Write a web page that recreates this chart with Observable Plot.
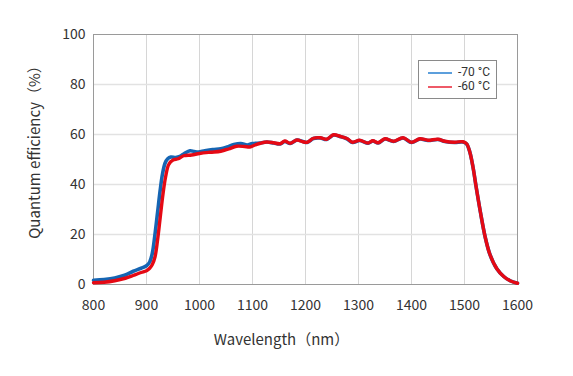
<!DOCTYPE html>
<html>
<head>
<meta charset="utf-8">
<script src="https://cdn.jsdelivr.net/npm/d3@7"></script>
<script src="https://cdn.jsdelivr.net/npm/@observablehq/plot@0.6"></script>
<style>
  html, body { margin: 0; padding: 0; background: #fff; }
  #wrap { position: relative; width: 573px; height: 376px; font-family: "Noto Sans CJK JP", "Noto Sans", sans-serif; color: #333; }
  #legend { position: absolute; left: 418px; top: 60px; width: 77px; height: 37px; border: 1px solid #8a8a8a; background: #fff; font-family: Roboto, "DejaVu Sans", sans-serif; font-size: 12px; line-height: 13px; }
  .row { position: absolute; left: 9px; height: 13px; line-height: 13px; display: flex; align-items: center; }
  .sw { width: 24px; height: 0; border-top-width: 2px; border-top-style: solid; margin-right: 6px; }
</style>
</head>
<body>
<div id="wrap"></div>
<script>
// Wavelength (nm) and quantum efficiency (%)
const wl70 = [800,820,840,860,875,890,900,906,911,916,921,926,930,935,940,946,955,963,972,982,990,998,1010,1025,1040,1052,1065,1078,1090,1100,1115,1127,1140,1152,1161,1171,1184,1195,1203,1215,1228,1240,1253,1265,1278,1289,1302,1318,1327,1337,1350,1366,1384,1400,1416,1431,1450,1463,1481,1497,1504,1510,1516,1522,1530,1539,1548,1561,1574,1586,1600];
const qe70 = [1.7,2.0,2.6,3.8,5.3,6.5,7.5,9,12.5,20,29,38,44,48.5,50.3,51,50.8,51.2,52.5,53.5,53.2,53.0,53.5,54.0,54.3,55,56,56.4,55.8,56.4,56.6,57,56.6,56.2,57.2,56.4,57.8,57.2,56.8,58.4,58.6,58.0,59.8,59.2,58.3,56.8,57.6,56.5,57.4,56.6,58.2,57.2,58.6,56.8,58.2,57.6,58.0,57.2,56.8,57.0,56.2,53,47,39,29,19,12,6.3,3.2,1.5,0.5];

const wl60 = [800,820,840,860,875,890,900,906,911,916,921,926,931,936,942,950,960,970,985,1000,1020,1040,1055,1070,1085,1095,1105,1115,1127,1140,1152,1161,1171,1184,1195,1203,1215,1228,1240,1253,1265,1278,1289,1302,1318,1327,1337,1350,1366,1384,1400,1416,1431,1450,1463,1481,1497,1504,1510,1516,1522,1530,1539,1548,1561,1574,1586,1600];
const qe60 = [0.7,0.9,1.5,2.5,3.6,4.8,5.5,6.5,8,11,18,27,36,43,48,49.8,50.3,51.5,51.8,52.4,52.9,53.3,54.2,55.3,55.2,55.0,55.8,56.5,57,56.7,56.3,57.4,56.5,57.8,57.1,56.9,58.5,58.7,58.1,59.9,59.3,58.4,56.9,57.7,56.6,57.5,56.7,58.3,57.3,58.7,56.9,58.3,57.7,58.1,57.3,56.9,57.1,56.3,53,47,39,29,19,12,6.3,3.2,1.5,0.5];

const xTicks = [800,900,1000,1100,1200,1300,1400,1500,1600];
const yTicks = [0,20,40,60,80,100];
const seriesNames = ["-70 °C", "-60 °C"];
const seriesColors = ["#1565b3", "#e50914"];
const legendColors = ["#5c9fdc", "#ee5a68"];

const d70 = wl70.map((w, i) => ({w, q: qe70[i]}));
const d60 = wl60.map((w, i) => ({w, q: qe60[i]}));

const chart = Plot.plot({
  width: 573,
  height: 376,
  marginLeft: 93,
  marginRight: 56,
  marginTop: 34,
  marginBottom: 92,
  style: { fontFamily: '"Noto Sans CJK JP", "Noto Sans", sans-serif', fontSize: "14px", color: "#333", background: "#fff" },
  x: { domain: [800, 1600] },
  y: { domain: [0, 100] },
  marks: [
    Plot.ruleX(xTicks.slice(1, -1), { stroke: "#d6d6d6", strokeWidth: 1 }),
    Plot.ruleY(yTicks.slice(1, -1), { stroke: "#e2e2e2", strokeWidth: 1.3 }),
    Plot.frame({ stroke: "#9a9a9a", strokeWidth: 1 }),
    Plot.axisX({ ticks: xTicks, tickFormat: d => String(d), tickSize: 0, tickPadding: 16, label: null, fontSize: 14 }),
    Plot.axisY({ ticks: yTicks, tickFormat: d => String(d), tickSize: 0, tickPadding: 8, label: null, fontSize: 14 }),
    Plot.line(d70, { x: "w", y: "q", stroke: seriesColors[0], strokeWidth: 3.6, curve: "catmull-rom" }),
    Plot.line(d60, { x: "w", y: "q", stroke: seriesColors[1], strokeWidth: 3.4, curve: "catmull-rom" }),
    Plot.text(["Wavelength（nm）"], { frameAnchor: "bottom", dy: 60, dx: -24, fontSize: 15, fill: "#333" }),
    Plot.text(["Quantum efficiency（%）"], { frameAnchor: "left", textAnchor: "middle", lineAnchor: "middle", rotate: -90, dx: -58, dy: -11, fontSize: 15, fill: "#333" })
  ]
});

const wrap = document.getElementById("wrap");
wrap.appendChild(chart);

const legend = document.createElement("div");
legend.id = "legend";
seriesNames.forEach((name, i) => {
  const row = document.createElement("div");
  row.className = "row";
  row.style.top = (5 + i * 14) + "px";
  const sw = document.createElement("span");
  sw.className = "sw";
  sw.style.borderTopColor = legendColors[i];
  const t = document.createElement("span");
  t.textContent = name;
  row.appendChild(sw);
  row.appendChild(t);
  legend.appendChild(row);
});
wrap.appendChild(legend);
</script>
</body>
</html>
